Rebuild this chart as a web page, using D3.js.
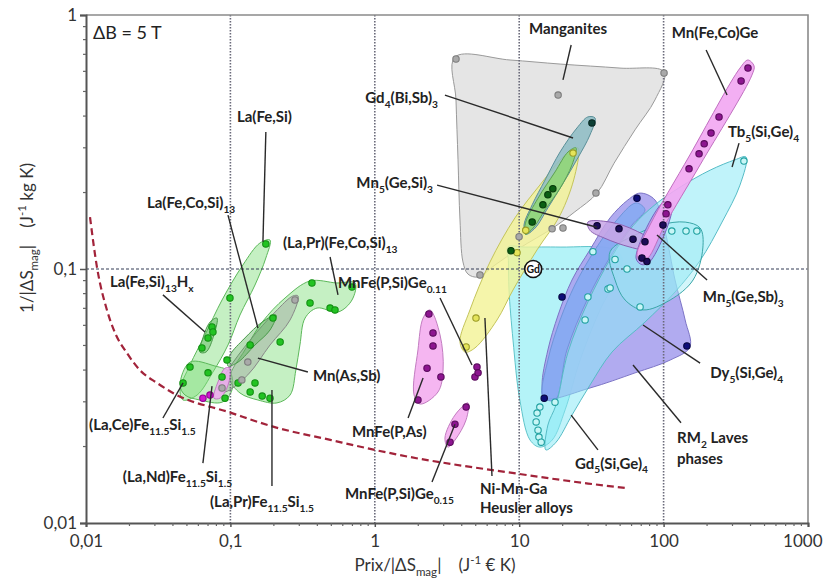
<!DOCTYPE html>
<html>
<head>
<meta charset="utf-8">
<script src="https://cdn.jsdelivr.net/npm/d3@7"></script>
<style>
  body { margin: 0; background: #fff; }
  text { font-family: Lato, "Open Sans", "DejaVu Sans", sans-serif; }
</style>
</head>
<body>
<svg id="chart" width="825" height="581"></svg>
<script>
// ---------- axes ----------
const xTicks = [0.01, 0.1, 1, 10, 100, 1000];
const yTicks = [0.01, 0.1, 1];
const gridX = [0.1, 1, 10, 100];
const gridY = [0.1];

// ---------- cost limit (dashed red curve) ----------
const limitCurve = [
  [0.01066, 0.160], [0.0119, 0.102], [0.01396, 0.069], [0.0159, 0.056], [0.0192, 0.0467],
  [0.0236, 0.040], [0.031, 0.0356], [0.040, 0.0325], [0.1, 0.0272], [0.2, 0.0239],
  [0.5, 0.0212], [1, 0.0194], [1.5, 0.0185], [10, 0.0156], [30, 0.0143], [56.6, 0.0137]
];

// ---------- material families: outlines [price/|dS|, 1/|dS|] ----------
const manganitesOutline = [[3.59,0.683],[8.64,0.665],[19.2,0.641],[49.9,0.618],[100.7,0.597],[87.1,0.463],[63.4,0.353],[45.4,0.261],[34.6,0.199],[24.3,0.168],[17.1,0.145],[10.1,0.121],[6.80,0.1037],[5.19,0.0930],[4.42,0.0955],[4.08,0.1066],[3.89,0.156],[3.77,0.269],[3.65,0.463]];
const manganitesPoints = [[3.65,0.671],[18.6,0.484],[100.7,0.591],[34.0,0.199],[16.9,0.144],[20.1,0.145],[9.98,0.134],[5.35,0.0947]];

const gd5Outline = [[8.36,0.122],[11.0,0.122],[19.2,0.122],[43.9,0.120],[51.5,0.1105],[48.3,0.0947],[36.3,0.069],[26.4,0.0438],[20.8,0.0279],[16.9,0.0212],[13.9,0.0199],[11.9,0.0212],[10.1,0.0305],[9.06,0.0525],[8.50,0.0827],[8.42,0.108]];
const gd5Points = [[32.4,0.117],[29.9,0.0776],[41.2,0.0834],[28.6,0.063],[17.7,0.0299],[13.9,0.0286],[13.3,0.0271],[13.1,0.0250],[13.5,0.0232],[13.7,0.0218],[14.2,0.0208]];

const rm2Outline = [[68.7,0.199],[87.1,0.187],[102,0.142],[120,0.0905],[141,0.063],[152,0.0493],[111,0.0438],[63.4,0.0390],[30.9,0.0340],[15.1,0.0310],[14.4,0.0349],[15.8,0.0480],[18.6,0.0659],[23.2,0.0905],[30.9,0.119],[42.6,0.159],[56.6,0.187]];
const rm2Points = [[65.4,0.190],[19.8,0.0776],[14.9,0.0310],[145,0.0498]];

const blueBandOutline = [[14.6,0.0313],[15.8,0.0438],[19.2,0.0630],[24.3,0.0865],[33.5,0.119],[46.1,0.153],[64.4,0.182],[74.3,0.171],[60.4,0.149],[42.6,0.1115],[29.5,0.0755],[21.4,0.0480],[17.7,0.0305]];

const tb5Outline = [[372,0.276],[338,0.214],[254,0.153],[179,0.108],[120,0.0812],[74.3,0.0618],[43.9,0.0471],[30.9,0.0349],[23.2,0.0266],[18.0,0.0208],[15.3,0.0194],[15.8,0.0243],[18.0,0.0292],[21.8,0.0471],[29.9,0.0741],[43.2,0.1105],[61.4,0.148],[87.1,0.179],[130,0.210],[210,0.245],[312,0.269]];
const tb5Points = [[360,0.266]];

const dy5Outline = [[42.6,0.117],[63.4,0.136],[94.4,0.149],[141,0.153],[179,0.145],[187,0.121],[160,0.0905],[111,0.0755],[72.0,0.069],[54.1,0.0755],[46.1,0.0905]];
const dy5Points = [[46.1,0.109],[55.8,0.100],[68.7,0.0709],[114,0.141],[143,0.141],[170,0.141],[42.6,0.0842]];

const niMnGaOutline = [[25.5,0.300],[24.3,0.234],[19.2,0.163],[13.3,0.119],[9.06,0.0827],[7.02,0.063],[4.94,0.0489],[4.22,0.0471],[3.89,0.0516],[4.56,0.069],[6.28,0.1066],[9.35,0.159],[13.9,0.214],[20.8,0.281]];
const niMnGaPoints = [[23.6,0.286],[5.02,0.0641],[4.29,0.0493],[11.1,0.142],[9.66,0.116]];

const gd4Outline = [[33.5,0.393],[30.9,0.337],[25.5,0.274],[19.8,0.214],[15.8,0.174],[12.9,0.145],[11.1,0.137],[10.8,0.149],[12.3,0.179],[15.1,0.224],[19.2,0.289],[25.1,0.359],[29.9,0.397]];
const gd4Points = [[31.9,0.376]];

const greenBandOutline = [[24.7,0.300],[23.2,0.257],[19.2,0.208],[15.1,0.171],[12.5,0.145],[11.0,0.137],[11.1,0.153],[13.5,0.190],[17.7,0.241],[21.8,0.289]];
const greenBandPoints = [[17.1,0.207],[15.8,0.196],[14.6,0.179],[12.3,0.153],[8.77,0.118]];

const mn5GeSiOutline = [[29.9,0.153],[42.6,0.153],[63.4,0.142],[83.2,0.128],[78.0,0.119],[58.5,0.122],[39.3,0.132],[30.9,0.142]];
const mn5GeSiPoints = [[34.6,0.148],[49.1,0.144],[61.4,0.131],[74.3,0.128]];

const mn5GeSbOutline = [[101,0.184],[114,0.177],[80.5,0.107],[70.8,0.104],[64.4,0.1105]];
const mn5GeSbPoints = [[99.0,0.149],[70.8,0.1105],[76.7,0.107]];

const mnFeCoGeOutline = [[384,0.665],[423,0.630],[409,0.580],[179,0.257],[102,0.149],[78.0,0.1105],[69.7,0.107],[65.4,0.1135],[80.5,0.149],[152,0.281],[338,0.618]];
const mnFeCoGePoints = [[384,0.618],[344,0.550],[242,0.397],[213,0.343],[191,0.311],[176,0.284],[150,0.248],[107,0.179],[104,0.165]];

const mnFePAsOutline = [[2.41,0.069],[2.83,0.055],[2.97,0.040],[2.74,0.0328],[2.06,0.0294],[1.87,0.0319],[1.99,0.048],[2.16,0.0641]];
const mnFePAsPoints = [[2.37,0.0665],[2.53,0.056],[2.53,0.0498],[2.30,0.0407],[2.87,0.0376],[1.99,0.0305]];

const mnFePSiGe011Points = [[5.10,0.0411],[4.94,0.0376],[5.19,0.0390]];

const mnFePSiGe015Outline = [[4.42,0.0297],[4.29,0.0255],[3.59,0.0212],[3.21,0.0199],[3.06,0.0216],[3.59,0.0266]];
const mnFePSiGe015Points = [[4.29,0.0286],[3.59,0.0245],[3.32,0.0208]];

const laFeSiOutline = [[0.188,0.130],[0.176,0.1105],[0.148,0.0865],[0.1165,0.0659],[0.0962,0.0502],[0.0757,0.0393],[0.0588,0.0319],[0.0470,0.0305],[0.0448,0.0334],[0.0525,0.0419],[0.0667,0.0550],[0.0875,0.0755],[0.122,0.1037],[0.160,0.1265]];
const laFeSiPoints = [[0.176,0.1255],[0.0993,0.0769]];

const laCeOutline = [[0.0525,0.0430],[0.0781,0.0415],[0.0993,0.0393],[0.1025,0.0334],[0.0875,0.0299],[0.0615,0.0305],[0.0485,0.0319],[0.0448,0.0349]];
const laCePoints = [[0.0525,0.0411],[0.0470,0.0356],[0.0700,0.0390],[0.0875,0.0376],[0.0918,0.0310]];

const laPrFeCoSiOutline = [[0.0993,0.0372],[0.126,0.0480],[0.166,0.0618],[0.239,0.0769],[0.356,0.0897],[0.547,0.0881],[0.730,0.0881],[0.695,0.0755],[0.556,0.0677],[0.398,0.0702],[0.329,0.0641],[0.303,0.0502],[0.284,0.0400],[0.259,0.0319],[0.210,0.0297],[0.155,0.0305],[0.1165,0.0325]];
const laPrFeCoSiPoints = [[0.367,0.0881],[0.356,0.0735],[0.490,0.0702],[0.530,0.0690],[0.695,0.0849],[0.221,0.0516],[0.113,0.0356],[0.137,0.0328],[0.148,0.0356],[0.166,0.0316],[0.188,0.0310],[0.0947,0.0438]];

const mnAsSbOutline = [[0.294,0.0783],[0.259,0.0630],[0.188,0.0502],[0.132,0.0383],[0.0918,0.0328],[0.0820,0.0334],[0.0962,0.0400],[0.137,0.0525],[0.204,0.0677],[0.271,0.0783]];
const mnAsSbPoints = [[0.280,0.0755],[0.132,0.0430],[0.120,0.0366],[0.0875,0.0340]];

const laFeCoSiOutline = [[0.207,0.0659],[0.188,0.0575],[0.148,0.0502],[0.113,0.0430],[0.0962,0.0415],[0.0993,0.0458],[0.126,0.0535],[0.166,0.0618]];
const laFeCoSiPoints = [[0.197,0.0641],[0.137,0.0502]];

const laFeSiHOutline = [[0.0807,0.0641],[0.0769,0.0550],[0.0678,0.0471],[0.0615,0.0471],[0.0645,0.0535],[0.0722,0.0618]];
const laFeSiHPoints = [[0.0746,0.0591],[0.0757,0.0565],[0.0700,0.0535],[0.0635,0.0489]];

const laNdOutline = [[0.0993,0.0407],[0.0962,0.0349],[0.0847,0.0310],[0.0769,0.0310],[0.0820,0.0359],[0.0918,0.0407]];
const laNdPoints = [[0.0645,0.0310],[0.0722,0.0319]];

// Gd reference material
const gdReference = [12.5, 0.1];

// ---------- annotations: label anchor and leader line, in data units ----------
const annotations = [
  { label: "Manganites", at: [11.7, 0.881], align: "start", leader: [[22.9, 0.762], [20.1, 0.555]] },
  { label: "Mn(Fe,Co)Ge", at: [114, 0.849], align: "start", leader: [[197, 0.728], [275, 0.484]] },
  { label: "Gd_{4}(Bi,Sb)_{3}", at: [2.74, 0.471], align: "end", leader: [[3.06, 0.484], [23.6, 0.328]] },
  { label: "Mn_{5}(Ge,Si)_{3}", at: [2.53, 0.218], align: "end", leader: [[2.70, 0.214], [34.6, 0.146]] },
  { label: "La(Fe,Si)", at: [0.111, 0.397], align: "start", leader: [[0.176, 0.346], [0.168, 0.128]] },
  { label: "La(Fe,Co,Si)_{13}", at: [0.0264, 0.182], align: "start", leader: [[0.0962, 0.163], [0.155, 0.0586]] },
  { label: "(La,Pr)(Fe,Co,Si)_{13}", at: [0.231, 0.1265], align: "start", leader: [[0.490, 0.1115], [0.556, 0.0791]] },
  { label: "La(Fe,Si)_{13}H_{x}", at: [0.01466, 0.0889], align: "start", leader: [[0.0341, 0.0791], [0.0667, 0.0565]] },
  { label: "Mn(As,Sb)", at: [0.373, 0.0379], align: "start", leader: [[0.344, 0.0393], [0.155, 0.0446]] },
  { label: "(La,Ce)Fe_{11.5}Si_{1.5}", at: [0.0105, 0.0243], align: "start", leader: [[0.0341, 0.0259], [0.047, 0.0356]] },
  { label: "(La,Nd)Fe_{11.5}Si_{1.5}", at: [0.0180, 0.0152], align: "start", leader: [[0.0645, 0.0172], [0.0746, 0.0346]] },
  { label: "(La,Pr)Fe_{11.5}Si_{1.5}", at: [0.0722, 0.0121], align: "start", leader: [[0.194, 0.0140], [0.194, 0.0334]] },
  { label: "MnFe(P,Si)Ge_{0.11}", at: [0.556, 0.0881], align: "start", leader: [[2.83, 0.0769], [4.71, 0.0419]] },
  { label: "MnFe(P,As)", at: [0.695, 0.0228], align: "start", leader: [[1.70, 0.0259], [2.16, 0.0372]] },
  { label: "MnFe(P,Si)Ge_{0.15}", at: [0.622, 0.0130], align: "start", leader: [[2.49, 0.0145], [3.59, 0.0245]] },
  { label: "Ni-Mn-Ga", at: [5.35, 0.0137], align: "start", leader: [[6.48, 0.0153], [5.79, 0.0641]] },
  { label: "Heusler alloys", at: [5.35, 0.01146], align: "start", leader: null },
  { label: "Gd_{5}(Si,Ge)_{4}", at: [24.3, 0.0172], align: "start", leader: [[35.1, 0.0194], [22.9, 0.0266]] },
  { label: "RM_{2} Laves", at: [124, 0.0216], align: "start", leader: [[132, 0.0248], [61.4, 0.0419]] },
  { label: "phases", at: [124, 0.0180], align: "start", leader: null },
  { label: "Dy_{5}(Si,Ge)_{4}", at: [210, 0.0390], align: "start", leader: [[179, 0.0426], [72.0, 0.0602]] },
  { label: "Mn_{5}(Ge,Sb)_{3}", at: [187, 0.0776], align: "start", leader: [[200, 0.0905], [90.0, 0.136]] },
  { label: "Tb_{5}(Si,Ge)_{4}", at: [279, 0.346], align: "start", leader: [[333, 0.313], [298, 0.252]] }
];

// ---------- styles ----------
const fills = {
  manganites: { fill: "#e2e2e2", op: 0.9, stroke: "#9a9a9a" },
  gd5:        { fill: "#b4f3f8", op: 1.0, stroke: "#5fc4ca" },
  rm2:        { fill: "#aaa4ef", op: 0.92, stroke: "#7c74c6" },
  blueBand:   { fill: "#7aa9f2", op: 0.7, stroke: "#6f94da" },
  tb5:        { fill: "#8ceaf6", op: 0.55, stroke: "#56bcc6" },
  dy5:        { fill: "#9eeaf4", op: 0.45, stroke: "#3aa6a8" },
  niMnGa:     { fill: "#f3f395", op: 0.8, stroke: "#c4c45a" },
  gd4:        { fill: "#8dbcc4", op: 0.85, stroke: "#5a8f98" },
  greenBand:  { fill: "#92d874", op: 0.85, stroke: "#5ca050" },
  mn5GeSi:    { fill: "#c8a6e6", op: 0.85, stroke: "#8a60b0" },
  mn5GeSb:    { fill: "#b5a2f0", op: 0.9, stroke: "#7a60c0" },
  mnFeCoGe:   { fill: "#f2a6f2", op: 0.9, stroke: "#c070c0" },
  pink:       { fill: "#f4b2f0", op: 0.95, stroke: "#c27cc0" },
  laGreen:    { fill: "#7ede7a", op: 0.45, stroke: "#5cb85a" },
  laDark:     { fill: "#4aac4a", op: 0.4, stroke: "#4a9a4a" },
  mnAsSb:     { fill: "#9c9c9c", op: 0.4, stroke: "#888" },
  laPink:     { fill: "#f0a8f0", op: 0.85, stroke: "#c07cc0" }
};
const marks = {
  gray:     { fill: "#a9a9a9", stroke: "#7d7d7d" },
  darkTeal: { fill: "#0c3f35", stroke: "#062620" },
  darkGreen:{ fill: "#0b5e14", stroke: "#063a0a" },
  yellow:   { fill: "#e4e45a", stroke: "#9c9c28" },
  teal:     { fill: "#c8f6f6", stroke: "#1fa0a0" },
  darkBlue: { fill: "#0d0d78", stroke: "#05053f" },
  navy:     { fill: "#1c0c58", stroke: "#0b0430" },
  purple:   { fill: "#8d1590", stroke: "#5a0a5c" },
  magenta:  { fill: "#d018d0", stroke: "#900090" },
  green:    { fill: "#22c322", stroke: "#139013" }
};

// drawing order: back to front
const regions = [
  { outline: manganitesOutline, style: "manganites" },
  { outline: gd5Outline, style: "gd5" },
  { outline: rm2Outline, style: "rm2" },
  { outline: blueBandOutline, style: "blueBand" },
  { outline: tb5Outline, style: "tb5" },
  { outline: dy5Outline, style: "dy5" },
  { outline: niMnGaOutline, style: "niMnGa" },
  { outline: gd4Outline, style: "gd4" },
  { outline: greenBandOutline, style: "greenBand" },
  { outline: mn5GeSiOutline, style: "mn5GeSi" },
  { outline: mn5GeSbOutline, style: "mn5GeSb" },
  { outline: mnFeCoGeOutline, style: "mnFeCoGe" },
  { outline: mnFePAsOutline, style: "pink" },
  { outline: mnFePSiGe015Outline, style: "pink" },
  { outline: laFeSiOutline, style: "laGreen" },
  { outline: laCeOutline, style: "laGreen" },
  { outline: laPrFeCoSiOutline, style: "laGreen" },
  { outline: mnAsSbOutline, style: "mnAsSb" },
  { outline: laFeCoSiOutline, style: "laDark" },
  { outline: laFeSiHOutline, style: "laDark" },
  { outline: laNdOutline, style: "laPink" }
];
const pointSets = [
  { pts: manganitesPoints, mark: "gray" },
  { pts: gd5Points, mark: "teal" },
  { pts: dy5Points, mark: "teal" },
  { pts: tb5Points, mark: "teal" },
  { pts: rm2Points, mark: "darkBlue" },
  { pts: niMnGaPoints, mark: "yellow" },
  { pts: gd4Points, mark: "darkTeal" },
  { pts: greenBandPoints, mark: "darkGreen" },
  { pts: mn5GeSiPoints, mark: "navy" },
  { pts: mn5GeSbPoints, mark: "navy" },
  { pts: mnFeCoGePoints, mark: "purple" },
  { pts: mnFePAsPoints, mark: "purple" },
  { pts: mnFePSiGe011Points, mark: "purple" },
  { pts: mnFePSiGe015Points, mark: "purple" },
  { pts: laFeSiPoints, mark: "green" },
  { pts: laCePoints, mark: "green" },
  { pts: laPrFeCoSiPoints, mark: "green" },
  { pts: mnAsSbPoints, mark: "gray" },
  { pts: laFeCoSiPoints, mark: "green" },
  { pts: laFeSiHPoints, mark: "green" },
  { pts: laNdPoints, mark: "magenta" }
];

// ---------- layout ----------
const svg = d3.select("#chart");
const frame = { left: 86, right: 808, top: 15, bottom: 523 };
const x = d3.scaleLog().domain([0.01, 1000]).range([frame.left, frame.right]);
const y = d3.scaleLog().domain([0.01, 1]).range([frame.bottom, frame.top]);
const comma = d => String(d).replace(".", ",");

// text with _{sub} and ^{sup} markup
function richText(sel, str, size) {
  const parts = str.split(/(_\{[^}]*\}|\^\{[^}]*\})/).filter(s => s.length);
  let shift = 0;
  parts.forEach(p => {
    let txt = p, target = 0, fs = null;
    if (p.startsWith("_{")) { txt = p.slice(2, -1); target = size * 0.32; fs = size * 0.68; }
    else if (p.startsWith("^{")) { txt = p.slice(2, -1); target = -size * 0.42; fs = size * 0.68; }
    const t = sel.append("tspan").text(txt).attr("dy", target - shift);
    if (fs) t.attr("font-size", fs);
    shift = target;
  });
}

// regions
const shape = d3.line().x(d => x(d[0])).y(d => y(d[1])).curve(d3.curveCatmullRomClosed.alpha(0.5));
const gRegions = svg.append("g");
regions.forEach(r => {
  const s = fills[r.style];
  gRegions.append("path")
    .attr("d", shape(r.outline))
    .attr("fill", s.fill).attr("fill-opacity", s.op)
    .attr("stroke", s.stroke).attr("stroke-width", 1);
});

// grid lines
const gGrid = svg.append("g");
gGrid.selectAll("line.gx").data(gridX).join("line")
  .attr("x1", d => x(d)).attr("x2", d => x(d))
  .attr("y1", frame.top).attr("y2", frame.bottom)
  .attr("stroke", "#6a6a7a").attr("stroke-width", 1.6).attr("stroke-dasharray", "1.4,1.6");
gGrid.selectAll("line.gy").data(gridY).join("line")
  .attr("x1", frame.left).attr("x2", frame.right)
  .attr("y1", d => y(d)).attr("y2", d => y(d))
  .attr("stroke", "#333a55").attr("stroke-width", 1).attr("stroke-dasharray", "3,2");

// frame top and right
svg.append("path")
  .attr("d", `M${frame.left},${frame.top}H${frame.right}V${frame.bottom}`)
  .attr("fill", "none").attr("stroke", "#8a8a8a").attr("stroke-width", 1.6);

// axes
const gx = svg.append("g").attr("transform", `translate(0,${frame.bottom})`)
  .call(d3.axisBottom(x).tickValues(xTicks).tickFormat(comma).tickSize(4).tickPadding(8));
const gy = svg.append("g").attr("transform", `translate(${frame.left},0)`)
  .call(d3.axisLeft(y).tickValues(yTicks).tickFormat(comma).tickSize(6).tickPadding(3));
[gx, gy].forEach(g => {
  g.select(".domain").attr("stroke", "#555").attr("stroke-width", 2);
  g.selectAll(".tick line").attr("stroke", "#555").attr("stroke-width", 1.5);
  g.selectAll(".tick text").attr("font-size", 17).attr("fill", "#333")
    .style("font-family", "Lato, sans-serif");
});
gx.selectAll(".tick text").filter(d => d === 1000).attr("text-anchor", "end").attr("x", 14);

// minor ticks
const minors = [];
for (let e = -2; e < 3; e++) for (let k = 2; k < 10; k++) minors.push(k * Math.pow(10, e));
svg.append("g").selectAll("line").data(minors).join("line")
  .attr("x1", d => x(d)).attr("x2", d => x(d))
  .attr("y1", frame.bottom).attr("y2", frame.bottom + 3)
  .attr("stroke", "#666").attr("stroke-width", 1.2);
svg.append("g").selectAll("line").data(minors.filter(d => d < 1)).join("line")
  .attr("y1", d => y(d)).attr("y2", d => y(d))
  .attr("x1", frame.left - 3).attr("x2", frame.left)
  .attr("stroke", "#666").attr("stroke-width", 1.2);

// points
const gPts = svg.append("g");
pointSets.forEach(set => {
  const m = marks[set.mark];
  gPts.selectAll(null).data(set.pts).join("circle")
    .attr("cx", d => x(d[0])).attr("cy", d => y(d[1])).attr("r", 3.2)
    .attr("fill", m.fill).attr("stroke", m.stroke).attr("stroke-width", 1.1);
});

// Gd reference marker
const gGd = svg.append("g").attr("transform", `translate(${x(gdReference[0])},${y(gdReference[1])})`);
gGd.append("circle").attr("r", 8.5).attr("fill", "#fff").attr("stroke", "#111").attr("stroke-width", 1.6);
gGd.append("text").attr("text-anchor", "middle").attr("y", 4).attr("font-size", 10.5)
  .attr("font-weight", 700).attr("fill", "#111").text("Gd");

// dashed limit curve
svg.append("path")
  .attr("d", d3.line().x(d => x(d[0])).y(d => y(d[1])).curve(d3.curveMonotoneX)(limitCurve))
  .attr("fill", "none").attr("stroke", "#a2233a").attr("stroke-width", 2.2)
  .attr("stroke-dasharray", "7,4");

// leaders and labels
const gAnn = svg.append("g");
annotations.forEach(a => {
  if (a.leader) {
    gAnn.append("line")
      .attr("x1", x(a.leader[0][0])).attr("y1", y(a.leader[0][1]))
      .attr("x2", x(a.leader[1][0])).attr("y2", y(a.leader[1][1]))
      .attr("stroke", "#2a2a2a").attr("stroke-width", 1.4);
  }
  const size = 15;
  const t = gAnn.append("text")
    .attr("x", x(a.at[0])).attr("y", y(a.at[1]) + size * 0.36)
    .attr("text-anchor", a.align).attr("font-size", size).attr("font-weight", 700)
    .attr("fill", "#222");
  richText(t, a.label, size);
});

// field label
svg.append("text").attr("x", x(0.01118)).attr("y", y(0.849) + 6)
  .attr("font-size", 18).attr("fill", "#222").text("\u0394B = 5 T");

// axis titles
const xt = svg.append("text").attr("x", 435).attr("y", 571).attr("text-anchor", "middle")
  .attr("font-size", 17).attr("fill", "#333");
richText(xt, "Prix/|\u0394S_{mag}|\u2003 (J^{-1} \u20ac K)", 17);
const yt = svg.append("text").attr("transform", "translate(33,238) rotate(-90)")
  .attr("text-anchor", "middle").attr("font-size", 17).attr("fill", "#333");
richText(yt, "1/|\u0394S_{mag}|\u2003 (J^{-1} kg K)", 17);
</script>
</body>
</html>
